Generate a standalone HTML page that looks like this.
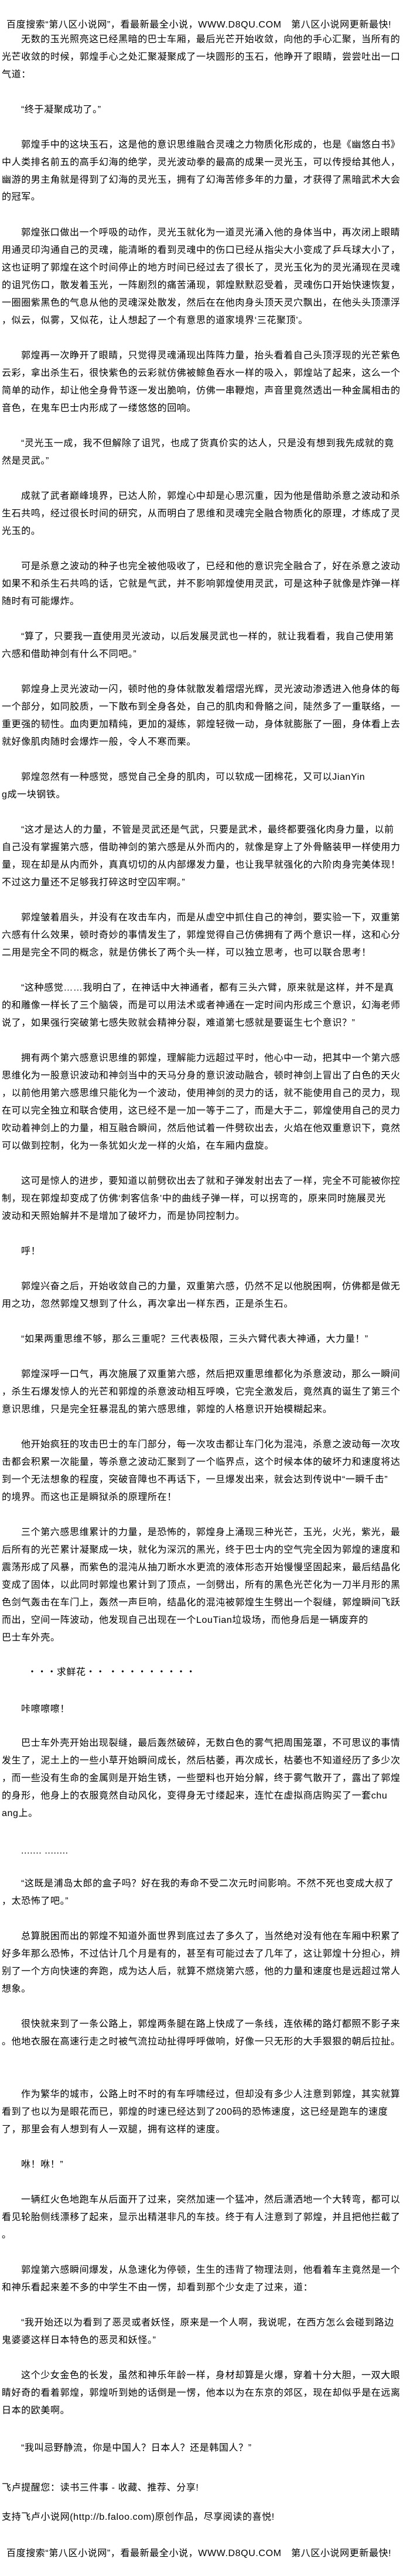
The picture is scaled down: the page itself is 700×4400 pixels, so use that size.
<!DOCTYPE html>
<html><head><meta charset="utf-8">
<style>
html,body{margin:0;padding:0;background:#fff;}
body{width:700px;height:4400px;position:relative;overflow:hidden;
font-family:"Liberation Sans","Noto Sans CJK SC",sans-serif;font-size:16px;color:#000;}
.l{position:absolute;left:3px;height:30px;line-height:30px;white-space:pre;letter-spacing:0.6px;}
.i{left:36px;}
</style></head><body>
<div class="l" style="top:28px;left:11px">百度搜索“第八区小说网”，看最新最全小说，WWW.D8QU.COM　第八区小说网更新最快!</div>
<div class="l i" style="top:53px">无数的玉光照亮这已经黑暗的巴士车厢，最后光芒开始收敛，向他的手心汇聚，当所有的</div>
<div class="l" style="top:83px">光芒收敛的时候，郭煌手心之处汇聚凝聚成了一块圆形的玉石，他睁开了眼睛，尝尝吐出一口</div>
<div class="l" style="top:113px">气道：</div>
<div class="l i" style="top:173px">“终于凝聚成功了。”</div>
<div class="l i" style="top:233px">郭煌手中的这块玉石，这是他的意识思维融合灵魂之力物质化形成的，也是《幽悠白书》</div>
<div class="l" style="top:263px">中人类排名前五的高手幻海的绝学，灵光波动拳的最高的成果一灵光玉，可以传授给其他人，</div>
<div class="l" style="top:293px">幽游的男主角就是得到了幻海的灵光玉，拥有了幻海苦修多年的力量，才获得了黑暗武术大会</div>
<div class="l" style="top:322px">的冠军。</div>
<div class="l i" style="top:383px">郭煌张口做出一个呼吸的动作，灵光玉就化为一道灵光涌入他的身体当中，再次闭上眼睛</div>
<div class="l" style="top:413px">用通灵印沟通自己的灵魂，能清晰的看到灵魂中的伤口已经从指尖大小变成了乒乓球大小了，</div>
<div class="l" style="top:443px">这也证明了郭煌在这个时间停止的地方时间已经过去了很长了，灵光玉化为的灵光涌现在灵魂</div>
<div class="l" style="top:473px">的诅咒伤口，散发着玉光，一阵剧烈的痛苦涌现，郭煌默默忍受着，灵魂伤口开始快速恢复，</div>
<div class="l" style="top:503px">一圈圈紫黑色的气息从他的灵魂深处散发，然后在在他肉身头顶天灵穴飘出，在他头头顶漂浮</div>
<div class="l" style="top:533px">，似云，似雾，又似花，让人想起了一个有意思的道家境界‘三花聚顶’。</div>
<div class="l i" style="top:593px">郭煌再一次睁开了眼睛，只觉得灵魂涌现出阵阵力量，抬头看着自己头顶浮现的光芒紫色</div>
<div class="l" style="top:623px">云彩，拿出杀生石，很快紫色的云彩就仿佛被鲸鱼吞水一样的吸入，郭煌站了起来，这么一个</div>
<div class="l" style="top:653px">简单的动作，却让他全身骨节逐一发出脆响，仿佛一串鞭炮，声音里竟然透出一种金属相击的</div>
<div class="l" style="top:683px">音色，在鬼车巴士内形成了一缕悠悠的回响。</div>
<div class="l i" style="top:743px">“灵光玉一成，我不但解除了诅咒，也成了货真价实的达人，只是没有想到我先成就的竟</div>
<div class="l" style="top:773px">然是灵武。”</div>
<div class="l i" style="top:833px">成就了武者巅峰境界，已达人阶，郭煌心中却是心思沉重，因为他是借助杀意之波动和杀</div>
<div class="l" style="top:863px">生石共鸣，经过很长时间的研究，从而明白了思维和灵魂完全融合物质化的原理，才练成了灵</div>
<div class="l" style="top:893px">光玉的。</div>
<div class="l i" style="top:953px">可是杀意之波动的种子也完全被他吸收了，已经和他的意识完全融合了，好在杀意之波动</div>
<div class="l" style="top:983px">如果不和杀生石共鸣的话，它就是气武，并不影响郭煌使用灵武，可是这种子就像是炸弹一样</div>
<div class="l" style="top:1013px">随时有可能爆炸。</div>
<div class="l i" style="top:1073px">“算了，只要我一直使用灵光波动，以后发展灵武也一样的，就让我看看，我自己使用第</div>
<div class="l" style="top:1103px">六感和借助神剑有什么不同吧。”</div>
<div class="l i" style="top:1163px">郭煌身上灵光波动一闪，顿时他的身体就散发着熠熠光辉，灵光波动渗透进入他身体的每</div>
<div class="l" style="top:1193px">一个部分，如同胶质，一下散布到全身各处，自己的肌肉和骨骼之间，陡然多了一重联络，一</div>
<div class="l" style="top:1223px">重更强的韧性。血肉更加精纯，更加的凝练，郭煌轻微一动，身体就膨胀了一圈，身体看上去</div>
<div class="l" style="top:1253px">就好像肌肉随时会爆炸一般，令人不寒而栗。</div>
<div class="l i" style="top:1313px">郭煌忽然有一种感觉，感觉自己全身的肌肉，可以软成一团棉花，又可以JianYin</div>
<div class="l" style="top:1343px">g成一块钢铁。</div>
<div class="l i" style="top:1403px">“这才是达人的力量，不管是灵武还是气武，只要是武术，最终都要强化肉身力量，以前</div>
<div class="l" style="top:1433px">自己没有掌握第六感，借助神剑的第六感是从外而内的，就像是穿上了外骨骼装甲一样使用力</div>
<div class="l" style="top:1463px">量，现在却是从内而外，真真切切的从内部爆发力量，也让我早就强化的六阶肉身完美体现！</div>
<div class="l" style="top:1493px">不过这力量还不足够我打碎这时空囚牢啊。”</div>
<div class="l i" style="top:1553px">郭煌皱着眉头，并没有在攻击车内，而是从虚空中抓住自己的神剑，要实验一下，双重第</div>
<div class="l" style="top:1583px">六感有什么效果，顿时奇妙的事情发生了，郭煌觉得自己仿佛拥有了两个意识一样，这和心分</div>
<div class="l" style="top:1613px">二用是完全不同的概念，就是仿佛长了两个头一样，可以独立思考，也可以联合思考！</div>
<div class="l i" style="top:1673px">“这种感觉……我明白了，在神话中大神通者，都有三头六臂，原来就是这样，并不是真</div>
<div class="l" style="top:1703px">的和雕像一样长了三个脑袋，而是可以用法术或者神通在一定时间内形成三个意识，幻海老师</div>
<div class="l" style="top:1733px">说了，如果强行突破第七感失败就会精神分裂，难道第七感就是要诞生七个意识？”</div>
<div class="l i" style="top:1793px">拥有两个第六感意识思维的郭煌，理解能力远超过平时，他心中一动，把其中一个第六感</div>
<div class="l" style="top:1823px">思维化为一股意识波动和神剑当中的天马分身的意识波动融合，顿时神剑上冒出了白色的天火</div>
<div class="l" style="top:1853px">，以前他用第六感思维只能化为一个波动，使用神剑的灵力的话，就不能使用自己的灵力，现</div>
<div class="l" style="top:1883px">在可以完全独立和联合使用，这已经不是一加一等于二了，而是大于二，郭煌使用自己的灵力</div>
<div class="l" style="top:1913px">吹动着神剑上的力量，相互融合瞬间，然后他试着一件劈砍出去，火焰在他双重意识下，竟然</div>
<div class="l" style="top:1943px">可以做到控制，化为一条犹如火龙一样的火焰，在车厢内盘旋。</div>
<div class="l i" style="top:2003px">这可是惊人的进步，要知道以前劈砍出去了就和子弹发射出去了一样，完全不可能被你控</div>
<div class="l" style="top:2033px">制，现在郭煌却变成了仿佛‘刺客信条’中的曲线子弹一样，可以拐弯的，原来同时施展灵光</div>
<div class="l" style="top:2063px">波动和天照始解并不是增加了破坏力，而是协同控制力。</div>
<div class="l i" style="top:2123px">呼！</div>
<div class="l i" style="top:2183px">郭煌兴奋之后，开始收敛自己的力量，双重第六感，仍然不足以他脱困啊，仿佛都是做无</div>
<div class="l" style="top:2213px">用之功，忽然郭煌又想到了什么，再次拿出一样东西，正是杀生石。</div>
<div class="l i" style="top:2273px">“如果两重思维不够，那么三重呢？三代表极限，三头六臂代表大神通，大力量！”</div>
<div class="l i" style="top:2333px">郭煌深呼一口气，再次施展了双重第六感，然后把双重思维都化为杀意波动，那么一瞬间</div>
<div class="l" style="top:2363px">，杀生石爆发惊人的光芒和郭煌的杀意波动相互呼唤，它完全激发后，竟然真的诞生了第三个</div>
<div class="l" style="top:2393px">意识思维，只是完全狂暴混乱的第六感思维，郭煌的人格意识开始模糊起来。</div>
<div class="l i" style="top:2453px">他开始疯狂的攻击巴士的车门部分，每一次攻击都让车门化为混沌，杀意之波动每一次攻</div>
<div class="l" style="top:2483px">击都会积累一次能量，等杀意之波动汇聚到了一个临界点，这个时候本体的破坏力和速度将达</div>
<div class="l" style="top:2513px">到一个无法想象的程度，突破音障也不再话下，一旦爆发出来，就会达到传说中“一瞬千击”</div>
<div class="l" style="top:2543px">的境界。而这也正是瞬狱杀的原理所在！</div>
<div class="l i" style="top:2603px">三个第六感思维累计的力量，是恐怖的，郭煌身上涌现三种光芒，玉光，火光，紫光，最</div>
<div class="l" style="top:2633px">后所有的光芒累计凝聚成一块，就化为深沉的黑光，终于巴士内的空气完全因为郭煌的速度和</div>
<div class="l" style="top:2663px">震荡形成了风暴，而紫色的混沌从抽刀断水水更流的液体形态开始慢慢坚固起来，最后结晶化</div>
<div class="l" style="top:2693px">变成了固体，以此同时郭煌也累计到了顶点，一剑劈出，所有的黑色光芒化为一刀半月形的黑</div>
<div class="l" style="top:2723px">色剑气轰击在车门上，轰然一声巨响，结晶化的混沌被郭煌生生劈出一个裂缝，郭煌瞬间飞跃</div>
<div class="l" style="top:2753px">而出，空间一阵波动，他发现自己出现在一个LouTian垃圾场，而他身后是一辆废弃的</div>
<div class="l" style="top:2783px">巴士车外壳。</div>
<div class="l" style="top:2842px;left:47px">・・・求鲜花・・ ・・・・・・・・・</div>
<div class="l i" style="top:2905px">咔嚓嚓嚓！</div>
<div class="l i" style="top:2963px">巴士车外壳开始出现裂缝，最后轰然破碎，无数白色的雾气把周围笼罩，不可思议的事情</div>
<div class="l" style="top:2993px">发生了，泥土上的一些小草开始瞬间成长，然后枯萎，再次成长，枯萎也不知道经历了多少次</div>
<div class="l" style="top:3023px">，而一些没有生命的金属则是开始生锈，一些塑料也开始分解，终于雾气散开了，露出了郭煌</div>
<div class="l" style="top:3053px">的身形，他身上的衣服竟然自动风化，变得身无寸缕起来，连忙在虚拟商店购买了一套chu</div>
<div class="l" style="top:3083px">ang上。</div>
<div class="l i" style="top:3147px">....... ........</div>
<div class="l i" style="top:3203px">“这既是浦岛太郎的盒子吗？好在我的寿命不受二次元时间影响。不然不死也变成大叔了</div>
<div class="l" style="top:3233px">，太恐怖了吧。”</div>
<div class="l i" style="top:3293px">总算脱困而出的郭煌不知道外面世界到底过去了多久了，当然绝对没有他在车厢中积累了</div>
<div class="l" style="top:3323px">好多年那么恐怖，不过估计几个月是有的，甚至有可能过去了几年了，这让郭煌十分担心，辨</div>
<div class="l" style="top:3353px">别了一个方向快速的奔跑，成为达人后，就算不燃烧第六感，他的力量和速度也是远超过常人</div>
<div class="l" style="top:3383px">想象。</div>
<div class="l i" style="top:3443px">很快就来到了一条公路上，郭煌两条腿在路上快成了一条线，连依稀的路灯都照不影子来</div>
<div class="l" style="top:3473px">。他地衣服在高速行走之时被气流拉动扯得呼呼做响，好像一只无形的大手狠狠的朝后拉扯。</div>
<div class="l i" style="top:3563px">作为繁华的城市，公路上时不时的有车呼啸经过，但却没有多少人注意到郭煌，其实就算</div>
<div class="l" style="top:3593px">看到了也以为是眼花而已，郭煌的时速已经达到了200码的恐怖速度，这已经是跑车的速度</div>
<div class="l" style="top:3623px">了，那里会有人想到有人一双腿，拥有这样的速度。</div>
<div class="l i" style="top:3683px">咻！咻！”</div>
<div class="l i" style="top:3743px">一辆红火色地跑车从后面开了过来，突然加速一个猛冲，然后潇洒地一个大转弯，都可以</div>
<div class="l" style="top:3773px">看见轮胎侧线漂移了起来，显示出精湛非凡的车技。终于有人注意到了郭煌，并且把他拦截了</div>
<div class="l" style="top:3803px">。</div>
<div class="l i" style="top:3863px">郭煌第六感瞬间爆发，从急速化为停顿，生生的违背了物理法则，他看着车主竟然是一个</div>
<div class="l" style="top:3893px">和神乐看起来差不多的中学生不由一愣，却看到那个少女走了过来，道：</div>
<div class="l i" style="top:3953px">“我开始还以为看到了恶灵或者妖怪，原来是一个人啊，我说呢，在西方怎么会碰到路边</div>
<div class="l" style="top:3983px">鬼婆婆这样日本特色的恶灵和妖怪。”</div>
<div class="l i" style="top:4043px">这个少女金色的长发，虽然和神乐年龄一样，身材却算是火爆，穿着十分大胆，一双大眼</div>
<div class="l" style="top:4073px">睛好奇的看着郭煌，郭煌听到她的话倒是一愣，他本以为在东京的郊区，现在却似乎是在远离</div>
<div class="l" style="top:4103px">日本的欧美啊。</div>
<div class="l i" style="top:4167px">“我叫忌野静流，你是中国人？日本人？还是韩国人？”</div>
<div class="l" style="top:4235px">飞卢提醒您：读书三件事 - 收藏、推荐、分享!</div>
<div class="l" style="top:4285px">支持飞卢小说网(http://b.faloo.com)原创作品，尽享阅读的喜悦!</div>
<div class="l" style="top:4347px;left:11px">百度搜索“第八区小说网”，看最新最全小说，WWW.D8QU.COM　第八区小说网更新最快!</div>
</body></html>
